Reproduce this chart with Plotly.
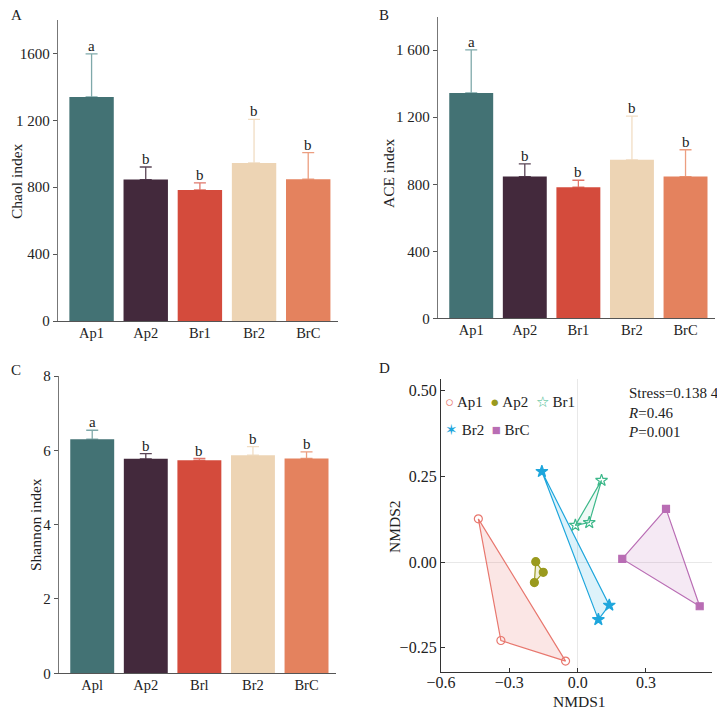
import plotly.graph_objects as go
from plotly.subplots import make_subplots

# bar panels
groups = ["Ap1", "Ap2", "Br1", "Br2", "BrC"]
groups_c = ["Apl", "Ap2", "Brl", "Br2", "BrC"]
bar_colors = ["#437274", "#43293C", "#D44B3C", "#EDD4B4", "#E4825E"]
err_colors = ["#7FA9AA", "#5A4556", "#E0776B", "#F1DDC4", "#EC9E80"]

chao1 = [1340, 846, 784, 945, 848]
chao1_err = [257, 75, 42, 261, 159]
ace = [1345, 846, 782, 946, 846]
ace_err = [257, 76, 42, 261, 160]
shannon = [6.30, 5.77, 5.73, 5.87, 5.78]
shannon_err = [0.24, 0.14, 0.05, 0.23, 0.18]
letters = ["a", "b", "b", "b", "b"]

# NMDS points
nmds_groups = ["Ap1", "Ap2", "Br1", "Br2", "BrC"]
nmds_colors = ["#E8776E", "#9A9A1E", "#3DB88A", "#1EA6DC", "#B96DB4"]
nmds_symbols = ["circle-open", "circle", "star-open", "star", "square"]
nmds_sizes = [8, 8, 9, 9, 7]
nmds_glyphs = ["\u25CB", "\u25CF", "\u2606", "\u2736", "\u25A0"]
nmds_x = [
    [-0.436, -0.337, -0.053],
    [-0.184, -0.151, -0.190],
    [0.105, -0.010, 0.051],
    [-0.157, 0.139, 0.091],
    [0.388, 0.196, 0.536],
]
nmds_y = [
    [0.126, -0.229, -0.289],
    [0.001, -0.030, -0.060],
    [0.238, 0.107, 0.115],
    [0.264, -0.126, -0.168],
    [0.155, 0.009, -0.129],
]
fill_colors = ["rgba(232,119,110,0.18)", "rgba(154,154,30,0.15)", "rgba(61,184,138,0.08)",
               "rgba(30,166,220,0.15)", "rgba(185,109,180,0.15)"]
stats_text = ["Stress=0.138 4", "<i>R</i>=0.46", "<i>P</i>=0.001"]

FONT = "Liberation Serif"
W, H = 717, 706   # page body keeps an 8px margin


def px_x(p):
    return (p - 8) / W


def px_y(p):
    return 1 - (p - 8) / H


fig = make_subplots(rows=2, cols=2)

def add_bars(row, col, cats, vals, errs):
    for i, c in enumerate(cats):
        # error bar on a hidden bar, the visible bar drawn over it hides the lower cap
        fig.add_trace(go.Bar(
            x=[c], y=[vals[i]], width=0.82,
            marker=dict(color="rgba(0,0,0,0)", line=dict(width=0)),
            error_y=dict(type="data", symmetric=False, array=[errs[i]], arrayminus=[0],
                         color=err_colors[i], thickness=1.3, width=6),
            showlegend=False, hoverinfo="skip",
        ), row=row, col=col)
        fig.add_trace(go.Bar(
            x=[c], y=[vals[i]], width=0.82,
            marker=dict(color=bar_colors[i], line=dict(width=0)),
            showlegend=False,
        ), row=row, col=col)

add_bars(1, 1, groups, chao1, chao1_err)
add_bars(1, 2, groups, ace, ace_err)
add_bars(2, 1, groups_c, shannon, shannon_err)

for i, g in enumerate(nmds_groups):
    xs = nmds_x[i] + [nmds_x[i][0]]
    ys = nmds_y[i] + [nmds_y[i][0]]
    fig.add_trace(go.Scatter(
        x=xs, y=ys, mode="lines", fill="toself", fillcolor=fill_colors[i],
        line=dict(color=nmds_colors[i], width=1.2), showlegend=False, hoverinfo="skip",
    ), row=2, col=2)
for i, g in enumerate(nmds_groups):
    fig.add_trace(go.Scatter(
        x=nmds_x[i], y=nmds_y[i], mode="markers", name=g, showlegend=False,
        marker=dict(symbol=nmds_symbols[i], color=nmds_colors[i], size=nmds_sizes[i],
                    line=dict(width=1.2, color=nmds_colors[i])),
    ), row=2, col=2)

tick_font = dict(family=FONT, size=15, color="#222")
cat_font = dict(family=FONT, size=14.5, color="#222")
bar_x = dict(showline=True, linecolor="#555", linewidth=1.3, ticks="", showgrid=False,
             tickfont=cat_font, range=[-0.62, 4.55], automargin=False, ticklabelstandoff=-2)
bar_y = dict(showline=True, linecolor="#777", linewidth=1.3, ticks="outside", ticklen=4,
             tickcolor="#555", showgrid=False, zeroline=False, tickfont=tick_font,
             automargin=False)
nmds_ax = dict(showline=True, linecolor="#333", linewidth=1.3, ticks="inside", ticklen=4,
               tickcolor="#333", showgrid=False, zeroline=True, zerolinecolor="#E8E8E8",
               zerolinewidth=1, tickfont=dict(family=FONT, size=16, color="#222"),
               automargin=False)

fig.update_layout(
    xaxis=dict(domain=[px_x(58), px_x(338)], **bar_x),
    yaxis=dict(domain=[px_y(321), px_y(20)], range=[0, 1800], tickvals=[0, 400, 800, 1200, 1600],
               ticktext=["0", "400", "800", "1 200", "1600"], **bar_y),
    xaxis2=dict(domain=[px_x(438), px_x(715)], **bar_x),
    yaxis2=dict(domain=[px_y(318.3), px_y(16.7)], range=[0, 1800],
                tickvals=[0, 400, 800, 1200, 1600],
                ticktext=["0", "400", "800", "1 200", "1 600"], **bar_y),
    xaxis3=dict(domain=[px_x(59), px_x(336)], **bar_x),
    yaxis3=dict(domain=[px_y(673.3), px_y(376)], range=[0, 8], tickvals=[0, 2, 4, 6, 8], **bar_y),
    xaxis4=dict(domain=[px_x(441), px_x(712)], range=[-0.6, 0.59], tickvals=[-0.6, -0.3, 0.0, 0.3],
                ticktext=["\u22120.6", "\u22120.3", "0.0", "0.3"], ticklabelstandoff=-4,
                **nmds_ax),
    yaxis4=dict(domain=[px_y(671.7), px_y(379.3)], range=[-0.32, 0.533],
                tickvals=[-0.25, 0, 0.25, 0.5],
                ticktext=["\u22120.25", "0.00", "0.25", "0.50"], **nmds_ax),
    width=W, height=H,
    margin=dict(l=0, r=0, t=0, b=0, autoexpand=False),
    plot_bgcolor="white", paper_bgcolor="white",
    font=dict(family=FONT, size=15, color="#222"),
    barmode="overlay",
    showlegend=False,
)

# axis titles
for txt, px, py, ang in [("Chaol index", 17, 181, -90), ("ACE index", 389, 173, -90),
                         ("Shannon index", 35, 525, -90), ("NMDS2", 394, 527, -90),
                         ("NMDS1", 579, 701, 0)]:
    fig.add_annotation(x=px_x(px), y=px_y(py), xref="paper", yref="paper", text=txt,
                       textangle=ang, showarrow=False, xanchor="center", yanchor="middle",
                       font=dict(family=FONT, size=15.5, color="#222"))

# significance letters
for axn, cats, vals, errs in [("", groups, chao1, chao1_err), ("2", groups, ace, ace_err),
                              ("3", groups_c, shannon, shannon_err)]:
    for i, c in enumerate(cats):
        fig.add_annotation(x=c, y=vals[i] + errs[i], xref="x" + axn, yref="y" + axn,
                           text=letters[i], showarrow=False, yanchor="bottom", yshift=-2,
                           font=dict(family=FONT, size=15, color="#222"))

# panel labels
for lab, px, py in [("A", 16, 15), ("B", 384, 15), ("C", 16, 370), ("D", 384, 368)]:
    fig.add_annotation(x=px_x(px), y=px_y(py), xref="paper", yref="paper", text=lab,
                       showarrow=False, xanchor="center", yanchor="middle",
                       font=dict(family=FONT, size=15, color="#222"))

# NMDS group key, as coloured glyphs
def key_entry(i):
    return (f"<span style='color:{nmds_colors[i]}'>{nmds_glyphs[i]}</span> {nmds_groups[i]}")

rows = [key_entry(0) + "  " + key_entry(1) + "  " + key_entry(2),
        key_entry(3) + "  " + key_entry(4)]
for r, py in zip(rows, [401.5, 430]):
    fig.add_annotation(x=px_x(443), y=px_y(py), xref="paper", yref="paper", text=r,
                       showarrow=False, xanchor="left", yanchor="middle",
                       font=dict(family=FONT, size=15, color="#222"))

# NMDS stats
fig.add_annotation(x=px_x(626), y=px_y(383), xref="paper", yref="paper",
                   text="<br>".join(stats_text), align="left",
                   showarrow=False, xanchor="left", yanchor="top",
                   font=dict(family=FONT, size=15, color="#222"))

fig.write_html("out.html")
